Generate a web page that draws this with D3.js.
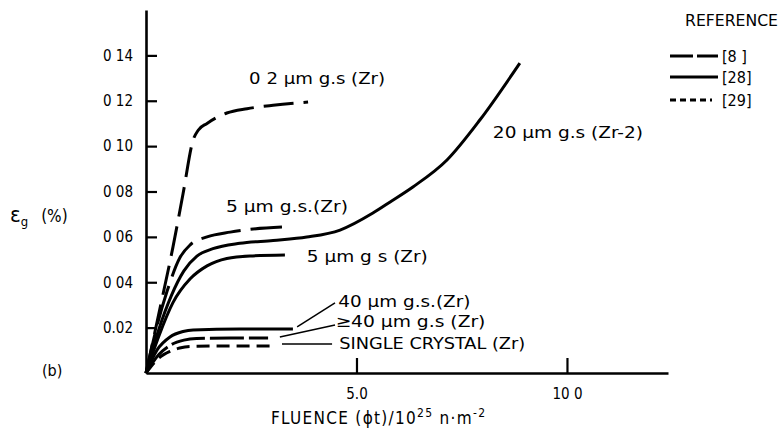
<!DOCTYPE html>
<html><head><meta charset="utf-8">
<script src="https://cdn.jsdelivr.net/npm/d3@7"></script>
<style>
body{margin:0;background:#fff;}
svg{display:block;font-family:"DejaVu Sans Condensed","DejaVu Sans",sans-serif;}
</style></head>
<body><svg id="chart" width="780" height="439"></svg>
<script>
// ---- data (x: fluence /1e25 n·m^-2, y: strain %) ----
const seriesNames = ["0 2 μm g.s (Zr)","5 μm g.s.(Zr)","20 μm g.s (Zr-2)","5 μm g s (Zr)","40 μm g.s.(Zr)","≥40 μm g.s (Zr)","SINGLE CRYSTAL (Zr)"];
const seriesRefs  = ["[8]","[8]","[28]","[28]","[28]","[8]","[29]"];
const c02  = [[0,0],[0.35,0.030],[0.64,0.0555],[0.88,0.079],[1.12,0.1027],[1.24,0.107],[1.45,0.110],[1.92,0.1146],[2.4,0.1165],[3.02,0.1180],[3.85,0.1194]];
const c5d  = [[0,0],[0.25,0.020],[0.5,0.036],[0.81,0.0510],[1.05,0.0565],[1.45,0.0600],[2.0,0.0621],[2.47,0.0633],[3.23,0.0643]];
const c20  = [[0,0],[0.3,0.019],[0.6,0.034],[0.9,0.045],[1.21,0.0515],[1.59,0.0548],[2.23,0.0572],[3.02,0.0584],[3.82,0.0599],[4.61,0.063],[5.39,0.0705],[5.80,0.0754],[6.34,0.082],[7.15,0.0939],[7.93,0.1115],[8.88,0.1366]];
const c5s  = [[0,0],[0.3,0.016],[0.64,0.031],[1.05,0.0415],[1.45,0.0472],[1.92,0.0505],[2.47,0.0516],[3.30,0.052]];
const c40  = [[0,0],[0.26,0.0101],[0.57,0.0159],[0.88,0.0183],[1.12,0.0190],[2.23,0.0194],[3.49,0.0194]];
const c40g = [[0,0],[0.3,0.008],[0.6,0.0125],[0.9,0.0145],[1.2,0.0152],[2.0,0.0154],[2.9,0.0154]];
const cSC  = [[0,0],[0.3,0.0065],[0.57,0.0095],[0.8,0.011],[1.05,0.0117],[2.0,0.0119],[3.02,0.0119]];
const yTickValues = [0.02,0.04,0.06,0.08,0.10,0.12,0.14];
const yTickLabels = ["0.02","0 04","0 06","0 08","0 10","0 12","0 14"];
const xTickValues = [5,10];
const xTickLabels = ["5.0","10 0"];
const legendRefs = ["[8 ]","[28]","[29]"];
// label anchor points (data coords) and leader lines
const labelPos = [[2.45,0.1297],[1.9,0.0733],[8.24,0.1058],[3.82,0.0515],[4.57,0.0313],[4.5,0.0225],[4.59,0.0128]];
const leaders = [[[3.59,0.0203],[4.49,0.0309]],[[3.18,0.0159],[4.49,0.0212]],[[3.23,0.0128],[4.42,0.0128]]];

// ---- layout ----
const svg = d3.select("#chart");
const x = d3.scaleLinear().domain([0,12.4]).range([146,668]);
const y = d3.scaleLinear().domain([0,0.16]).range([373,10]);
const series = [c02,c5d,c20,c5s,c40,c40g,cSC];
const dashes = ["30,10","40,10",null,null,null,"34,5","13,7"];
const labelW = [136,122,150,121,132,150,186];

const line = d3.line().x(d=>x(d[0])).y(d=>y(d[1])).curve(d3.curveMonotoneX);

// axes
const yAxis = d3.axisLeft(y).tickValues(yTickValues).tickFormat((d,i)=>yTickLabels[i]).tickSize(-11).tickSizeOuter(0).tickPadding(13);
const gy = svg.append("g").attr("transform","translate(146,0)").call(yAxis);
const xAxis = d3.axisBottom(x).tickValues(xTickValues).tickFormat((d,i)=>xTickLabels[i]).tickSize(-15).tickSizeOuter(0).tickPadding(15);
const gx = svg.append("g").attr("transform","translate(0,373)").call(xAxis);
[gx,gy].forEach(g=>{
  g.select(".domain").attr("stroke","#000").attr("stroke-width",2.6);
  g.selectAll(".tick line").attr("stroke","#000").attr("stroke-width",2.2);
  g.selectAll(".tick text").attr("fill","#000").attr("font-size",15).attr("font-family","DejaVu Sans Condensed, DejaVu Sans, sans-serif");
});

// curves
series.forEach((s,i)=>{
  svg.append("path").attr("d",line(s)).attr("fill","none").attr("stroke","#000")
    .attr("stroke-width",3).attr("stroke-linecap","butt")
    .attr("stroke-dasharray",dashes[i]);
});

// leaders
leaders.forEach(l=>{
  svg.append("line").attr("x1",x(l[0][0])).attr("y1",y(l[0][1])).attr("x2",x(l[1][0])).attr("y2",y(l[1][1]))
    .attr("stroke","#000").attr("stroke-width",1.5);
});

// curve labels
seriesNames.forEach((n,i)=>{
  svg.append("text").attr("x",x(labelPos[i][0])).attr("y",y(labelPos[i][1]))
    .attr("dominant-baseline","central").attr("font-size",16)
    .attr("textLength",labelW[i]).attr("lengthAdjust","spacingAndGlyphs").text(n);
});

// axis titles
const yl = svg.append("text").attr("x",10).attr("y",222).attr("font-size",17);
yl.append("tspan").attr("font-size",22).text("ε");
yl.append("tspan").attr("font-size",13).attr("dy",4).text("g");
yl.append("tspan").attr("dy",-4).attr("dx",13).text("(%)");

svg.append("text").attr("x",42).attr("y",376).attr("font-size",16).text("(b)");

const xl = svg.append("text").attr("x",271).attr("y",424).attr("font-size",17).attr("letter-spacing",1.3);
xl.append("tspan").text("FLUENCE  (ϕt)/10");
xl.append("tspan").attr("font-size",12).attr("dy",-7).text("25");
xl.append("tspan").attr("dy",7).text("  n·m");
xl.append("tspan").attr("font-size",12).attr("dy",-7).text("-2");

// legend
svg.append("text").attr("x",685).attr("y",26).attr("font-size",15).attr("textLength",93).attr("lengthAdjust","spacingAndGlyphs").text("REFERENCE");
const legDash = ["23,4",null,"6,4"];
legendRefs.forEach((r,i)=>{
  const ly = [56,77,100][i];
  svg.append("line").attr("x1",670).attr("x2",i===2?712:718).attr("y1",ly).attr("y2",ly)
    .attr("stroke","#000").attr("stroke-width",3).attr("stroke-dasharray",legDash[i]);
  svg.append("text").attr("x",722).attr("y",ly).attr("dominant-baseline","central").attr("font-size",16).text(r);
});
</script></body></html>
